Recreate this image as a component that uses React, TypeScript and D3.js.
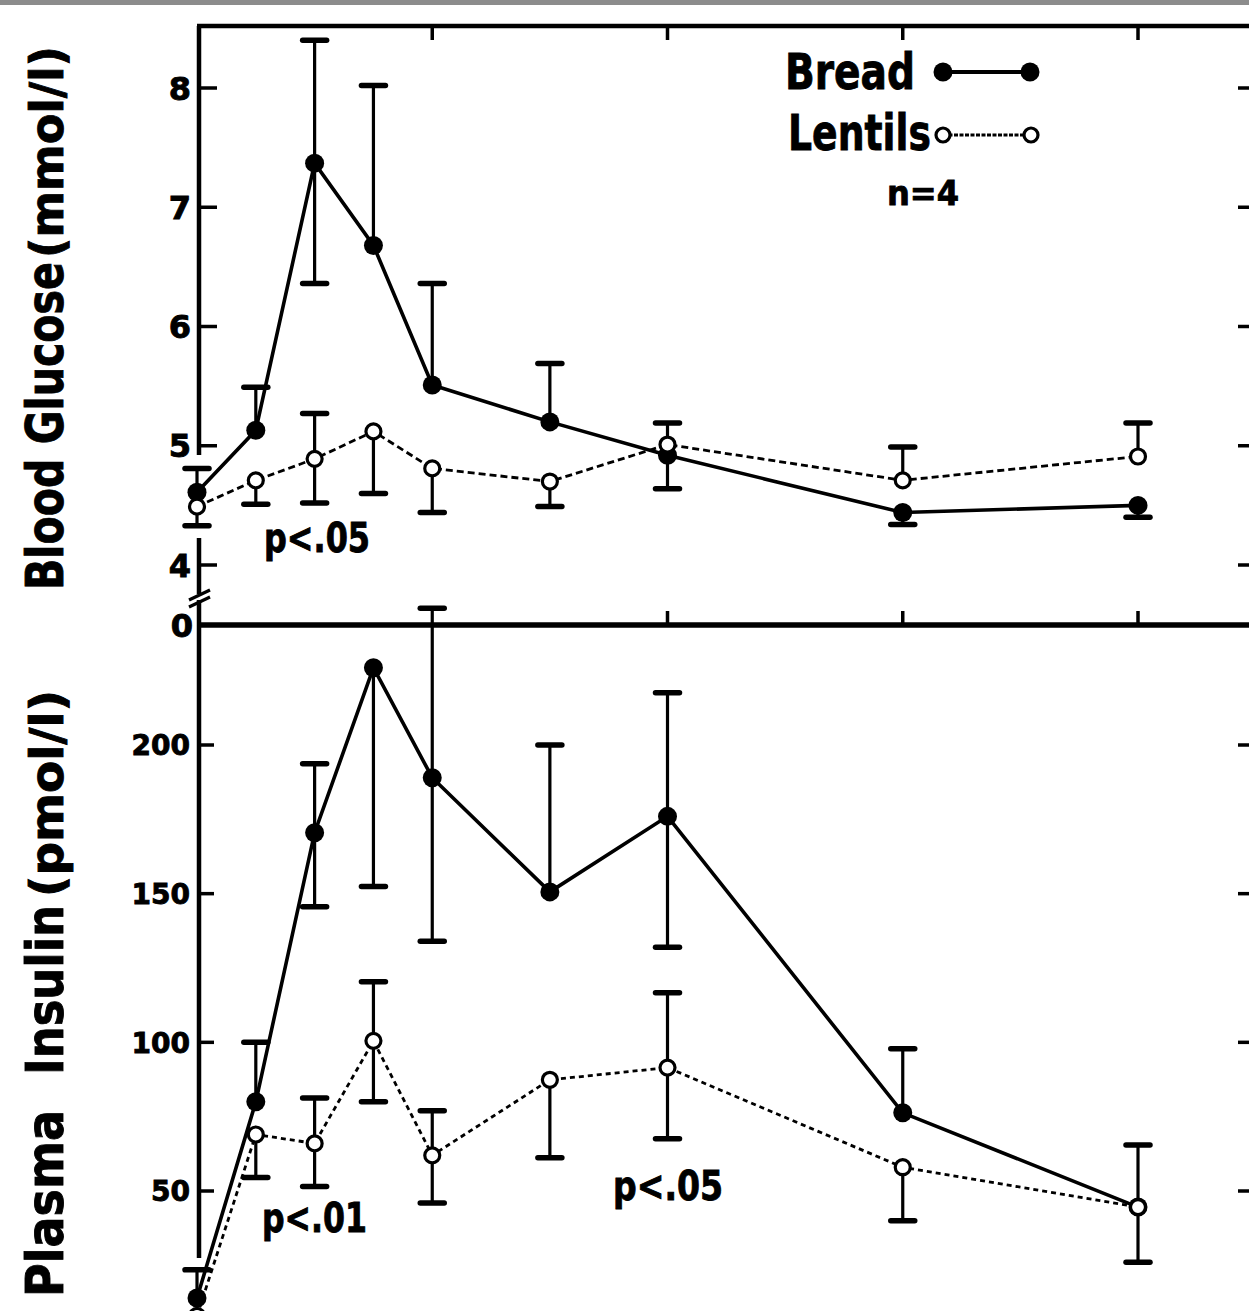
import * as d3 from "d3";

// sampling times (min)
const times = [0, 15, 30, 45, 60, 90, 120, 180, 240];

// blood glucose (mmol/l)
const glucoseBread = [4.61, 5.13, 7.37, 6.68, 5.51, 5.2, 4.92, 4.44, 4.5];
const glucoseBreadHi = [4.81, 5.49, 8.4, 8.02, 6.36, 5.69, null, null, null];
const glucoseBreadLo = [null, null, 6.36, null, null, null, 4.64, 4.34, 4.4];
const glucoseLentils = [4.49, 4.71, 4.89, 5.12, 4.81, 4.7, 5.01, 4.71, 4.91];
const glucoseLentilsHi = [null, null, 5.27, null, null, null, 5.19, 4.99, 5.19];
const glucoseLentilsLo = [4.33, 4.51, 4.52, 4.6, 4.44, 4.49, null, null, null];

// plasma insulin (pmol/l)
const insulinBread = [14, 80, 170.5, 226, 189, 150.6, 176, 76.3, 44.6];
const insulinBreadHi = [23.5, 100, 193.7, null, 246, 200, 217.6, 97.8, 65.5];
const insulinBreadLo = [null, null, 145.6, 152.4, 134, null, 132, null, null];
const insulinLentils = [8, 69, 66, 100.5, 62, 87.4, 91.5, 58, 44.6];
const insulinLentilsHi = [null, null, 81.3, 120.4, 77, null, 116.7, null, null];
const insulinLentilsLo = [null, 54.5, 51.5, 80, 46, 61.2, 67.6, 40, 26];

const glucoseTicks = [4, 5, 6, 7, 8];
const insulinTicks = [50, 100, 150, 200];
const frameTicks = [60, 120, 180, 240];

const W = 1249;
const H = 1311;
const axisX = 199;
const dividerY = 625;
const topY = 26;
const font = "'DejaVu Sans', sans-serif";

const x = d3.scaleLinear().domain([0, 240]).range([197, 1138]);
const yG = d3.scaleLinear().domain([4, 8]).range([565, 88]);
const yI = d3.scaleLinear().domain([50, 200]).range([1191, 745]);

type Num = number | null;

function ErrorBars({ vals, hi, lo, y }: { vals: number[]; hi: Num[]; lo: Num[]; y: d3.ScaleLinear<number, number> }) {
  return (
    <g stroke="#000">
      {times.map((t, i) => {
        const cx = x(t);
        const out = [];
        for (const [k, v] of [["h", hi[i]], ["l", lo[i]]] as [string, Num][]) {
          if (v == null) continue;
          out.push(
            <g key={k}>
              <line x1={cx} x2={cx} y1={y(vals[i])} y2={y(v)} strokeWidth={3.2} />
              <line x1={cx - 12} x2={cx + 12} y1={y(v)} y2={y(v)} strokeWidth={5.5} strokeLinecap="round" />
            </g>
          );
        }
        return <g key={i}>{out}</g>;
      })}
    </g>
  );
}

function Series({ vals, y, open, dash }: { vals: number[]; y: d3.ScaleLinear<number, number>; open: boolean; dash?: string }) {
  const line = d3
    .line<number>()
    .x((_, i) => x(times[i]))
    .y((d) => y(d));
  return (
    <g>
      <path d={line(vals) ?? ""} fill="none" stroke="#000" strokeWidth={open ? 2.8 : 3.6} strokeDasharray={dash} />
      {vals.map((v, i) =>
        open ? (
          <circle key={i} cx={x(times[i])} cy={y(v)} r={7.5} fill="#fff" stroke="#000" strokeWidth={3.2} />
        ) : (
          <circle key={i} cx={x(times[i])} cy={y(v)} r={9.5} fill="#000" />
        )
      )}
    </g>
  );
}

export default function App() {
  return (
    <svg
      width={W}
      height={H}
      viewBox={`0 0 ${W} ${H}`}
      style={{ position: "absolute", left: 0, top: 0, background: "#fff" }}
      fontFamily={font}
      fontWeight="bold"
    >
      <rect x={0} y={0} width={W} height={H} fill="#fff" />
      <rect x={0} y={0} width={W} height={5} fill="#8c8c8c" />

      {/* frame */}
      <line x1={axisX - 2} x2={W} y1={topY} y2={topY} stroke="#000" strokeWidth={4.5} />
      <line x1={axisX - 2} x2={W} y1={dividerY} y2={dividerY} stroke="#000" strokeWidth={5.5} />
      <line x1={axisX} x2={axisX} y1={topY} y2={455} stroke="#000" strokeWidth={4.5} />
      <line x1={axisX} x2={axisX} y1={538} y2={dividerY} stroke="#000" strokeWidth={4.5} />
      <line x1={axisX} x2={axisX} y1={dividerY} y2={1258} stroke="#000" strokeWidth={4.5} />
      {/* axis break */}
      <rect x={194} y={594} width={10} height={6} fill="#fff" />
      <g stroke="#000" strokeWidth={3.2}>
        <line x1={189} x2={210} y1={600} y2={590} />
        <line x1={189} x2={210} y1={607} y2={597} />
      </g>

      {frameTicks.map((t) => (
        <g key={t} stroke="#000" strokeWidth={3.5}>
          <line x1={x(t)} x2={x(t)} y1={topY} y2={topY + 14} />
          {t > 60 && <line x1={x(t)} x2={x(t)} y1={dividerY} y2={dividerY - 14} />}
        </g>
      ))}

      <g stroke="#000" strokeWidth={0.9}>
        {/* glucose axis */}
        {glucoseTicks.map((v) => (
          <g key={v}>
            <line x1={axisX} x2={axisX + 18} y1={yG(v)} y2={yG(v)} strokeWidth={3.5} />
            <line x1={1238} x2={W} y1={yG(v)} y2={yG(v)} strokeWidth={3.5} />
            <text x={191} y={yG(v)} dy="0.36em" textAnchor="end" fontSize={32}>
              {v}
            </text>
          </g>
        ))}
        <text x={193} y={dividerY} dy="0.36em" textAnchor="end" fontSize={32}>
          0
        </text>

        {/* insulin axis */}
        {insulinTicks.map((v) => (
          <g key={v}>
            <line x1={axisX} x2={axisX + 15} y1={yI(v)} y2={yI(v)} strokeWidth={3.5} />
            <line x1={1238} x2={W} y1={yI(v)} y2={yI(v)} strokeWidth={3.5} />
            <text x={190} y={yI(v)} dy="0.36em" textAnchor="end" fontSize={29} textLength={String(v).length * 19.5} lengthAdjust="spacingAndGlyphs">
              {v}
            </text>
          </g>
        ))}

        {/* axis titles */}
        <g transform="translate(63,0) rotate(-90)" fontSize={52}>
          <text x={-590} y={0} textLength={328} lengthAdjust="spacingAndGlyphs">Blood Glucose</text>
          <text x={-258} y={0} fontSize={46} textLength={212} lengthAdjust="spacingAndGlyphs">(mmol/l)</text>
          <text x={-1297} y={0} textLength={187} lengthAdjust="spacingAndGlyphs">Plasma</text>
          <text x={-1075} y={0} textLength={170} lengthAdjust="spacingAndGlyphs">Insulin</text>
          <text x={-897} y={0} fontSize={46} textLength={207} lengthAdjust="spacingAndGlyphs">(pmol/l)</text>
        </g>

        {/* legend text */}
        <text x={785} y={89} fontSize={50} textLength={130} lengthAdjust="spacingAndGlyphs">Bread</text>
        <text x={788} y={150} fontSize={50} textLength={143} lengthAdjust="spacingAndGlyphs">Lentils</text>
        <text x={887} y={205} fontSize={34} textLength={72} lengthAdjust="spacingAndGlyphs">n=4</text>

        {/* significance */}
        <text x={264} y={552} fontSize={40} textLength={106} lengthAdjust="spacingAndGlyphs">p&lt;.05</text>
        <text x={262} y={1232} fontSize={40} textLength={105} lengthAdjust="spacingAndGlyphs">p&lt;.01</text>
        <text x={613} y={1200} fontSize={40} textLength={110} lengthAdjust="spacingAndGlyphs">p&lt;.05</text>
      </g>

      {/* glucose panel */}
      <ErrorBars vals={glucoseBread} hi={glucoseBreadHi} lo={glucoseBreadLo} y={yG} />
      <ErrorBars vals={glucoseLentils} hi={glucoseLentilsHi} lo={glucoseLentilsLo} y={yG} />
      <Series vals={glucoseBread} y={yG} open={false} />
      <Series vals={glucoseLentils} y={yG} open={true} dash="7,4" />

      {/* insulin panel */}
      <ErrorBars vals={insulinBread} hi={insulinBreadHi} lo={insulinBreadLo} y={yI} />
      <ErrorBars vals={insulinLentils} hi={insulinLentilsHi} lo={insulinLentilsLo} y={yI} />
      <Series vals={insulinBread} y={yI} open={false} />
      <Series vals={insulinLentils} y={yI} open={true} dash="5,4" />

      {/* legend marks */}
      <line x1={943} x2={1030} y1={72} y2={72} stroke="#000" strokeWidth={3.8} />
      <circle cx={943} cy={72} r={9.5} fill="#000" />
      <circle cx={1030} cy={72} r={9.5} fill="#000" />
      <line x1={943} x2={1031} y1={135} y2={135} stroke="#000" strokeWidth={2.8} strokeDasharray="4,1.5" />
      <circle cx={943} cy={135} r={7} fill="#fff" stroke="#000" strokeWidth={3.2} />
      <circle cx={1031} cy={135} r={7} fill="#fff" stroke="#000" strokeWidth={3.2} />
    </svg>
  );
}
